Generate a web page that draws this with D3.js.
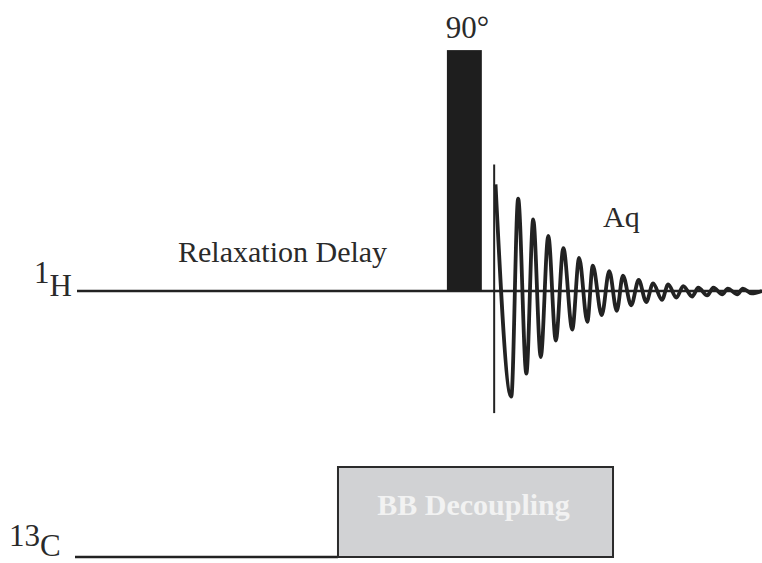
<!DOCTYPE html>
<html>
<head>
<meta charset="utf-8">
<script src="https://cdn.jsdelivr.net/npm/d3@7"></script>
<style>
  html, body { margin: 0; padding: 0; background: #fff; }
  svg { display: block; }
  text { font-family: "Liberation Serif", "Times New Roman", serif; fill: #2a2a2a; }
</style>
</head>
<body>
<svg id="seq" width="762" height="563"></svg>
<script>
// Pulse sequence timeline (arbitrary time units, 0..100)
const timeDomain = [0, 100];

// 1H channel: 90° excitation pulse
const pulseStart = 54.0;
const pulseEnd = 59.1;
const pulseHeight = 2.19;          // in 1H amplitude units
const pulseLabel = "90°";

// Acquisition start marker (vertical line) and its extent in amplitude units
const acqTime = 60.9;
const acqExtent = [-1.11, 1.15];

// FID extrema: times and amplitudes read along the decaying signal
const fidTimes = [
  61.1, 63.4, 64.4, 65.6, 66.6, 67.7, 68.8, 69.9, 71.0, 72.3,
  73.3, 74.5, 75.3, 76.6, 77.7, 78.8, 79.7, 80.9, 82.0, 83.1,
  84.1, 85.4, 86.3, 87.5, 88.5, 89.8, 90.7, 92.0, 92.9, 94.2,
  95.0, 96.4, 97.2, 98.5, 100.0
];
const fidAmps = [
  0.97, -0.96, 0.84, -0.75, 0.65, -0.60, 0.50, -0.45, 0.39, -0.35,
  0.30, -0.28, 0.23, -0.22, 0.18, -0.18, 0.14, -0.13, 0.10, -0.10,
  0.07, -0.08, 0.06, -0.06, 0.045, -0.05, 0.03, -0.04, 0.03, -0.03,
  0.022, -0.03, 0.022, -0.022, 0.0
];

// 13C channel: broadband decoupling window
const decStart = 38.1;
const decEnd = 78.25;
const decHeight = 1;

// Text labels
const channelLabels = [
  { sup: "1", base: "H" },
  { sup: "13", base: "C" }
];
const delayLabel = "Relaxation Delay";
const acqLabel = "Aq";
const decLabel = "BB Decoupling";

const svg = d3.select("#seq");
const ink = "#222";

const x = d3.scaleLinear().domain(timeDomain).range([77, 762]);
const yH = d3.scaleLinear().domain([0, 1]).range([291, 181]);
const yC = d3.scaleLinear().domain([0, 1]).range([557, 467]);

// ---- 1H channel ----
svg.append("line")
  .attr("x1", x(timeDomain[0])).attr("x2", x(timeDomain[1]))
  .attr("y1", yH(0)).attr("y2", yH(0))
  .attr("stroke", ink).attr("stroke-width", 2.6);

svg.append("rect")
  .attr("x", x(pulseStart)).attr("y", yH(pulseHeight))
  .attr("width", x(pulseEnd) - x(pulseStart))
  .attr("height", yH(0) - yH(pulseHeight))
  .attr("fill", "#1e1e1e");

svg.append("text")
  .attr("x", (x(pulseStart) + x(pulseEnd)) / 2 + 3)
  .attr("y", 38)
  .attr("text-anchor", "middle")
  .attr("font-size", 31)
  .text(pulseLabel);

svg.append("line")
  .attr("x1", x(acqTime)).attr("x2", x(acqTime))
  .attr("y1", yH(acqExtent[1])).attr("y2", yH(acqExtent[0]))
  .attr("stroke", ink).attr("stroke-width", 2);

const fidPoints = fidTimes.map((t, i) => [t, fidAmps[i]]);
const fidLine = d3.line()
  .x(d => x(d[0]))
  .y(d => yH(d[1]))
  .curve(d3.curveMonotoneX);

svg.append("path")
  .attr("d", fidLine(fidPoints))
  .attr("fill", "none")
  .attr("stroke", ink)
  .attr("stroke-width", 3.8)
  .attr("stroke-linejoin", "round");

svg.append("text")
  .attr("x", 178).attr("y", 262)
  .attr("font-size", 30)
  .text(delayLabel);

svg.append("text")
  .attr("x", 603).attr("y", 227)
  .attr("font-size", 30)
  .text(acqLabel);

// ---- 13C channel ----
svg.append("line")
  .attr("x1", x(timeDomain[0]) - 2).attr("x2", x(decStart))
  .attr("y1", yC(0)).attr("y2", yC(0))
  .attr("stroke", ink).attr("stroke-width", 2.4);

svg.append("rect")
  .attr("x", x(decStart)).attr("y", yC(decHeight))
  .attr("width", x(decEnd) - x(decStart))
  .attr("height", yC(0) - yC(decHeight))
  .attr("fill", "#d1d2d4")
  .attr("stroke", "#2b2b2b")
  .attr("stroke-width", 2);

svg.append("text")
  .attr("x", (x(decStart) + x(decEnd)) / 2 - 2)
  .attr("y", 515)
  .attr("text-anchor", "middle")
  .attr("font-size", 30)
  .attr("font-weight", "bold")
  .style("fill", "#f2f2f2")
  .text(decLabel);

// Channel labels with superscript isotope numbers
const labelPos = [
  { x: 34, supY: 283, baseY: 296 },
  { x: 9, supY: 546, baseY: 556 }
];
channelLabels.forEach((lab, i) => {
  const p = labelPos[i];
  const t = svg.append("text").attr("x", p.x).attr("y", p.baseY).attr("font-size", 31);
  t.append("tspan").attr("y", p.supY).text(lab.sup);
  t.append("tspan").attr("y", p.baseY).text(lab.base);
});
</script>
</body>
</html>
